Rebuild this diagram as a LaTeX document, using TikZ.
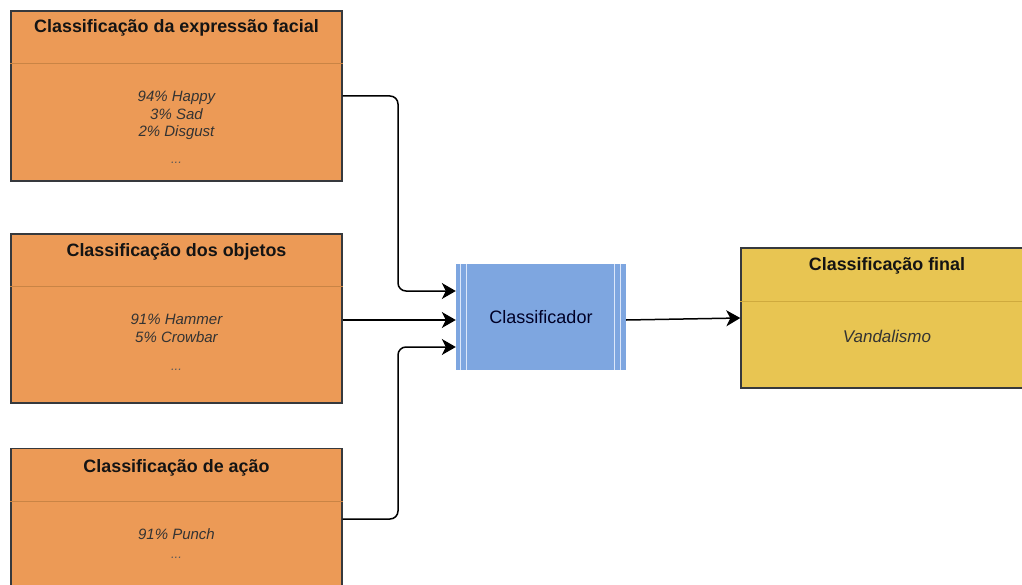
\documentclass[tikz,border=0pt]{standalone}
\usepackage{fontspec}
\setmainfont{Liberation Sans}
\usetikzlibrary{arrows.meta}

\definecolor{boxorange}{HTML}{EC9A56}
\definecolor{boxyellow}{HTML}{E8C552}
\definecolor{procblue}{HTML}{7EA6E0}
\definecolor{procline}{HTML}{DCE7FA}
\definecolor{edgegray}{HTML}{36393D}
\definecolor{sepgray}{HTML}{C98445}
\definecolor{sepyellow}{HTML}{CFAA3E}

\tikzset{
  card/.style={draw=edgegray, line width=1.4pt, rectangle, inner sep=0pt},
  cardtitle/.style={anchor=base, font=\fontsize{17.9}{21}\selectfont\bfseries, text=black!92, inner sep=0pt},
  cardline/.style={anchor=base, font=\fontsize{15}{18}\selectfont\itshape, text=black!80, inner sep=0pt},
  carddots/.style={anchor=base, font=\fontsize{13}{16}\selectfont\itshape, text=black!65, inner sep=0pt},
  sepline/.style={line width=0.8pt},
  link/.style={line width=1.5pt, black, rounded corners=8pt,
    -{Stealth[length=14pt 0, width=16pt 0, inset=4pt 0]}},
}

\begin{document}
\begin{tikzpicture}[x=1pt, y=-1pt]
\useasboundingbox (0,0) rectangle (1022,585);
\clip (0,0) rectangle (1022,585);

% input boxes
\node[card, fill=boxorange, minimum width=331pt, minimum height=170pt] (b1) at (176.5,96) {};
\draw[sepline, sepgray] (b1.west |- 0,63) -- (b1.east |- 0,63);
\node[cardtitle] (t1) at (176.5,33) {Classificação da expressão facial};
\node[cardline] (l11) at (176.5,102) {94\% Happy};
\node[cardline] (l12) at (176.5,119.5) {3\% Sad};
\node[cardline] (l13) at (176.5,137) {2\% Disgust};
\node[carddots] (d1) at (176.5,164) {...};

\node[card, fill=boxorange, minimum width=331pt, minimum height=169pt] (b2) at (176.5,318.5) {};
\draw[sepline, sepgray] (b2.west |- 0,286) -- (b2.east |- 0,286);
\node[cardtitle] (t2) at (176.5,257) {Classificação dos objetos};
\node[cardline] (l21) at (176.5,324) {91\% Hammer};
\node[cardline] (l22) at (176.5,342) {5\% Crowbar};
\node[carddots] (d2) at (176.5,370) {...};

\node[card, fill=boxorange, minimum width=331pt, minimum height=141pt] (b3) at (176.5,519) {};
\draw[sepline, sepgray] (b3.west |- 0,501) -- (b3.east |- 0,501);
\node[cardtitle] (t3) at (176.5,472) {Classificação de ação};
\node[cardline] (l31) at (176.5,539) {91\% Punch};
\node[carddots] (d3) at (176.5,558) {...};

% classifier process block
\node[rectangle, fill=procblue, minimum width=170pt, minimum height=106pt, inner sep=0pt,
      font=\fontsize{18}{21}\selectfont, text=black!85!blue] (cls) at (541,317) {Classificador};
\foreach \lx in {460.5,466.5,614.5,620.5}
  \draw[procline, line width=1.3pt] (\lx,264) -- (\lx,370);

% final result box
\node[card, fill=boxyellow, minimum width=292pt, minimum height=140pt] (fin) at (887,318) {};
\draw[sepline, sepyellow] (fin.west |- 0,301) -- (fin.east |- 0,301);
\node[cardtitle] (t4) at (887,270) {Classificação final};
\node[cardline, font=\fontsize{17}{20}\selectfont\itshape] (l41) at (887,342) {Vandalismo};

% connectors
\coordinate (in1) at (cls.west |- 0,291);
\coordinate (in3) at (cls.west |- 0,347);
\coordinate (j1) at (398,200);
\coordinate (j3) at (398,430);
\draw[link] (b1.east) -| (j1) |- (in1);
\draw[link] (b2.east |- 0,320) -- (cls.west |- 0,320);
\draw[link] (b3.east) -| (j3) |- (in3);
\draw[link] (cls.east |- 0,320) -- (fin.west);
\end{tikzpicture}
\end{document}
